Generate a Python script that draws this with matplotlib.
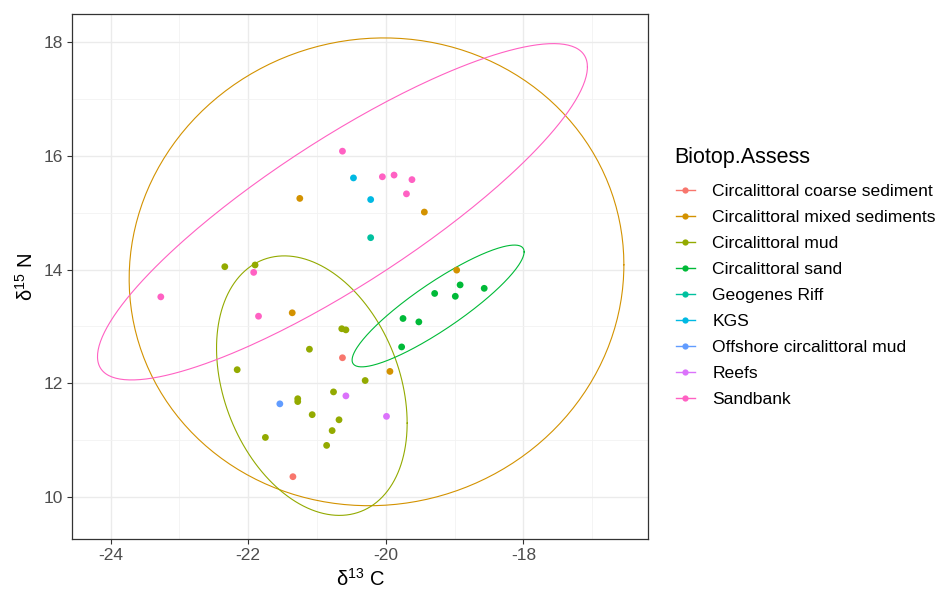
import numpy as np
import matplotlib.pyplot as plt
from matplotlib.lines import Line2D

plt.rcParams['font.family'] = ['Liberation Sans', 'DejaVu Sans']
plt.rcParams['mathtext.fontset'] = 'custom'
plt.rcParams['mathtext.rm'] = 'Liberation Sans'
plt.rcParams['mathtext.it'] = 'Liberation Sans:italic'
plt.rcParams['axes.unicode_minus'] = False

GROUPS = ['Circalittoral coarse sediment', 'Circalittoral mixed sediments',
          'Circalittoral mud', 'Circalittoral sand', 'Geogenes Riff', 'KGS',
          'Offshore circalittoral mud', 'Reefs', 'Sandbank']
COLORS = ['#F8766D', '#D39200', '#93AA00', '#00BA38', '#00C19F',
          '#00B9E3', '#619CFF', '#DB72FB', '#FF61C3']

# d13C / d15N per biotope
coarse_x = [-20.63, -21.35]
coarse_y = [12.45, 10.36]
mixed_x = [-21.25, -19.44, -18.97, -21.36, -19.94]
mixed_y = [15.25, 15.01, 13.99, 13.24, 12.21]
mud_x = [-22.34, -21.90, -20.64, -20.58, -21.11, -22.16, -20.30, -20.76,
         -21.28, -21.28, -21.07, -20.68, -20.78, -21.75, -20.86]
mud_y = [14.05, 14.08, 12.96, 12.94, 12.60, 12.24, 12.05, 11.85,
         11.73, 11.68, 11.45, 11.36, 11.17, 11.05, 10.91]
sand_x = [-18.92, -18.57, -19.29, -18.99, -19.75, -19.52, -19.77]
sand_y = [13.73, 13.67, 13.58, 13.53, 13.14, 13.08, 12.64]
riff_x = [-20.22]
riff_y = [14.56]
kgs_x = [-20.47, -20.22]
kgs_y = [15.61, 15.23]
offshore_x = [-21.54]
offshore_y = [11.64]
reefs_x = [-20.58, -19.99]
reefs_y = [11.78, 11.42]
sandbank_x = [-20.63, -20.05, -19.88, -19.62, -19.70, -21.92, -23.27, -21.85]
sandbank_y = [16.08, 15.63, 15.66, 15.58, 15.33, 13.95, 13.52, 13.18]

XS = [coarse_x, mixed_x, mud_x, sand_x, riff_x, kgs_x, offshore_x, reefs_x, sandbank_x]
YS = [coarse_y, mixed_y, mud_y, sand_y, riff_y, kgs_y, offshore_y, reefs_y, sandbank_y]

# 95% ellipses: centre, half-extent in x / y, correlation
ell_group = [1, 2, 3, 8]
ell_cx = [-20.135, -21.075, -19.24, -20.63]
ell_cy = [13.96, 11.96, 13.36, 15.015]
ell_sx = [3.595, 1.385, 1.25, 3.56]
ell_sy = [4.11, 2.28, 1.07, 2.955]
ell_r = [0.03, -0.289, 0.888, 0.861]

fig = plt.figure(figsize=(9.38, 5.94), dpi=100)
ax = fig.add_axes([0.0768, 0.0921, 0.6140, 0.8843])

t = np.linspace(0, 2 * np.pi, 300)
for g, cx, cy, sx, sy, r in zip(ell_group, ell_cx, ell_cy, ell_sx, ell_sy, ell_r):
    ex = cx + sx * np.cos(t)
    ey = cy + sy * (r * np.cos(t) + np.sqrt(1 - r ** 2) * np.sin(t))
    ax.plot(ex, ey, color=COLORS[g], lw=0.8, zorder=3)

for xs, ys, c in zip(XS, YS, COLORS):
    ax.scatter(xs, ys, s=24, color=c, edgecolors='none', zorder=4)

ax.set_xlim(-24.56, -16.19)
ax.set_ylim(9.26, 18.49)
ax.set_xticks([-24, -22, -20, -18])
ax.set_yticks([10, 12, 14, 16, 18])
ax.set_xticks([-23, -21, -19, -17], minor=True)
ax.set_yticks([11, 13, 15, 17], minor=True)
ax.grid(which='major', color='#EBEBEB', lw=1.0, zorder=0)
ax.grid(which='minor', color='#F2F2F2', lw=0.6, zorder=0)
ax.set_axisbelow(True)
ax.tick_params(which='major', length=3.5, width=0.8, color='#333333',
               labelsize=12.5, labelcolor='#4D4D4D', pad=3)
ax.tick_params(which='minor', length=0)
for sp in ax.spines.values():
    sp.set_edgecolor('#333333')
    sp.set_linewidth(0.9)

ax.set_xlabel(r'δ$^{\mathrm{13}}$ C', fontsize=14.5, labelpad=3)
ax.set_ylabel(r'δ$^{\mathrm{15}}$ N', fontsize=14.5, labelpad=5)

# legend: title drawn on its own so the gap to the keys matches
fig.text(0.7186, 1 - 157 / 594, 'Biotop.Assess', fontsize=15.5, va='center', ha='left')
handles = [Line2D([0], [0], color=c, lw=1.0, marker='o', markersize=4.5,
                  markeredgewidth=0) for c in COLORS]
leg = fig.legend(handles, GROUPS, loc='upper left', bbox_to_anchor=(0.7204, 1 - 184 / 594),
                 frameon=False, fontsize=12.6, handlelength=1.1, handletextpad=1.0,
                 labelspacing=0.61, borderaxespad=0, borderpad=0)

fig.savefig('out.png', dpi=100)
